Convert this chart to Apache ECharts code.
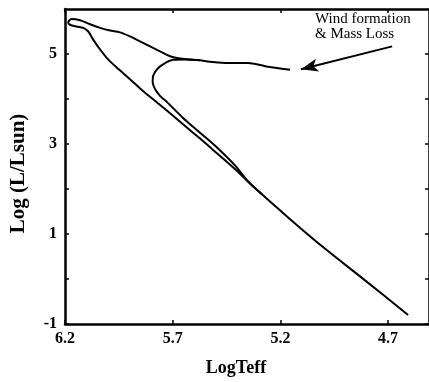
<!DOCTYPE html>
<html>
<head>
<meta charset="utf-8">
<script src="https://cdn.jsdelivr.net/npm/echarts@6/dist/echarts.min.js"></script>
<style>
  html, body { margin: 0; padding: 0; background: #fff; }
  #chart { width: 429px; height: 382px; }
</style>
</head>
<body>
<div id="chart"></div>
<script>
// evolutionary track (LogTeff, Log L/Lsun)
const trackTeff = [4.607, 4.807, 4.992, 5.155, 5.318, 5.410, 5.503, 5.573, 5.652, 5.726,
  5.774, 5.838, 5.898, 5.960, 6.000, 6.037, 6.069, 6.092, 6.115, 6.146, 6.177, 6.185,
  6.169, 6.130, 6.084, 6.037, 5.991, 5.945, 5.898, 5.852, 5.805, 5.759, 5.712, 5.666,
  5.619, 5.573, 5.527, 5.443, 5.350, 5.271, 5.155];
const trackLum = [-0.80, -0.03, 0.67, 1.33, 2.02, 2.44, 2.83, 3.12, 3.44, 3.74,
  3.93, 4.18, 4.44, 4.70, 4.88, 5.10, 5.32, 5.50, 5.58, 5.61, 5.65, 5.70,
  5.78, 5.75, 5.66, 5.58, 5.52, 5.48, 5.39, 5.28, 5.17, 5.06, 4.95, 4.90,
  4.88, 4.86, 4.83, 4.80, 4.80, 4.73, 4.65];

// inner loop branching off the main sequence
const loopTeff = [5.285, 5.350, 5.410, 5.503, 5.573, 5.652, 5.726, 5.759, 5.782, 5.793,
  5.791, 5.773, 5.745, 5.698, 5.643, 5.573];
const loopLum = [1.88, 2.17, 2.52, 2.96, 3.25, 3.58, 3.93, 4.07, 4.22, 4.37,
  4.51, 4.66, 4.77, 4.87, 4.88, 4.86];

// annotation arrow: [tail, head]
const arrowTeff = [4.681, 5.104];
const arrowLum = [5.17, 4.66];

const xTicks = [6.2, 5.7, 5.2, 4.7];
const yLabels = [-1, 1, 3, 5];
const yTicks = [-1, 0, 1, 2, 3, 4, 5];

const serif = "'Liberation Serif', 'DejaVu Serif', serif";

const chart = echarts.init(document.getElementById("chart"), null, { renderer: "canvas" });

const axisLine = { show: true, onZero: false, lineStyle: { color: "#000", width: 2.5 } };

const option = {
  animation: false,
  backgroundColor: "#fff",
  grid: { left: 65, top: 9, right: 0, bottom: 55 },
  xAxis: [
    {
      type: "value",
      inverse: true,
      min: 4.51,
      max: 6.2,
      position: "bottom",
      axisLine: axisLine,
      axisTick: { inside: true, length: 4, customValues: xTicks, lineStyle: { color: "#000", width: 1.5 } },
      axisLabel: {
        customValues: xTicks,
        formatter: (v) => v.toFixed(1),
        color: "#000",
        fontFamily: serif,
        fontWeight: "bold",
        fontSize: 16,
        margin: 7,
      },
      splitLine: { show: false },
      name: "LogTeff",
      nameLocation: "middle",
      nameGap: 35,
      nameTextStyle: {
        color: "#000",
        fontFamily: serif,
        fontWeight: "bold",
        fontSize: 18,
        padding: [0, 22, 0, 0],
      },
    },
    {
      type: "value",
      inverse: true,
      min: 4.51,
      max: 6.2,
      position: "top",
      axisLine: axisLine,
      axisTick: { inside: true, length: 4, customValues: xTicks, lineStyle: { color: "#000", width: 1.5 } },
      axisLabel: { show: false },
      splitLine: { show: false },
    },
  ],
  yAxis: [
    {
      type: "value",
      min: -1,
      max: 6,
      position: "left",
      axisLine: axisLine,
      axisTick: { inside: true, length: 4, customValues: yTicks, lineStyle: { color: "#000", width: 1.5 } },
      axisLabel: {
        customValues: yLabels,
        color: "#000",
        fontFamily: serif,
        fontWeight: "bold",
        fontSize: 16,
        margin: 8,
      },
      splitLine: { show: false },
      name: "Log (L/Lsun)",
      nameLocation: "middle",
      nameRotate: 90,
      nameGap: 36,
      nameTextStyle: {
        color: "#000",
        fontFamily: serif,
        fontWeight: "bold",
        fontSize: 21,
        padding: [0, 14, 0, 0],
      },
    },
    {
      type: "value",
      min: -1,
      max: 6,
      position: "right",
      axisLine: axisLine,
      axisTick: { inside: true, length: 4, customValues: yTicks, lineStyle: { color: "#000", width: 1.5 } },
      axisLabel: { show: false },
      splitLine: { show: false },
    },
  ],
  series: [
    {
      type: "line",
      data: trackTeff.map((t, i) => [t, trackLum[i]]),
      showSymbol: false,
      smooth: 0.3,
      lineStyle: { color: "#000", width: 2 },
      emphasis: { disabled: true },
      markLine: {
        silent: true,
        symbol: ["none", "arrow"],
        symbolSize: [10, 17],
        label: { show: false },
        lineStyle: { color: "#000", width: 2, type: "solid" },
        data: [
          [
            { coord: [arrowTeff[0], arrowLum[0]] },
            { coord: [arrowTeff[1], arrowLum[1]] },
          ],
        ],
      },
    },
    {
      type: "line",
      data: loopTeff.map((t, i) => [t, loopLum[i]]),
      showSymbol: false,
      smooth: 0.3,
      lineStyle: { color: "#000", width: 2 },
      emphasis: { disabled: true },
    },
  ],
  graphic: [
    {
      type: "text",
      left: 315,
      top: 12,
      style: {
        text: "Wind formation\n& Mass Loss",
        font: "15px " + serif,
        lineHeight: 15,
        fill: "#000",
      },
    },
  ],
};

chart.setOption(option);
</script>
</body>
</html>
